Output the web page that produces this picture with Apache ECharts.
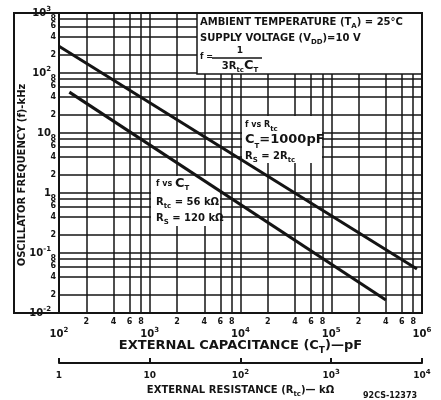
<!DOCTYPE html>
<html><head><meta charset="utf-8">
<script src="https://cdn.jsdelivr.net/npm/echarts@6/dist/echarts.min.js"></script>
<style>html,body{margin:0;padding:0;background:#fff}#c{width:441px;height:400px}</style>
</head><body><div id="c"></div>
<script>
// ---- data ----
const capDecades = [100, 1000, 10000, 100000, 1000000];          // pF
const freqDecades = [0.01, 0.1, 1, 10, 100, 1000];               // kHz
const resDecades = [1, 10, 100, 1000, 10000];                    // kOhm
const minorMultipliers = [2, 4, 6, 8];

// f vs C_T  (R_tc = 56 kOhm, R_S = 120 kOhm)
const ctValues = [130, 400000];
const fVsCt = [48, 0.0165];
// f vs R_tc (C_T = 1000 pF, R_S = 2 R_tc)
const rtcValues = [1, 8800];
const fVsRtc = [280, 0.054];

const FONT = 'DejaVu Sans';
const INK = '#141414';

function expLabel(v) {
  const e = Math.round(Math.log10(v));
  if (e === 0) return '1';
  if (e === 1) return '10';
  return '10{sup|' + e + '}';
}
const supRich = { sup: { fontSize: 7, verticalAlign: 'top', fontFamily: FONT, fontWeight: 'bold', color: INK } };
const subRich = {
  sub: { fontSize: 7, verticalAlign: 'bottom', fontFamily: FONT, fontWeight: 'bold', color: INK },
  big: { fontSize: 13, fontFamily: FONT, fontWeight: 'bold', color: INK },
  small: { fontSize: 8, fontFamily: FONT, fontWeight: 'bold', color: INK }
};

// grid lines through the library's scales (markLine)
const gridData = [];
freqDecades.forEach(d => {
  gridData.push({ yAxis: d, label: { show: false } });
  if (d < 1000) minorMultipliers.forEach(m => gridData.push({ yAxis: d * m, label: { show: true, formatter: String(m), position: 'start', distance: 3 } }));
});
capDecades.forEach(d => {
  gridData.push({ xAxis: d, label: { show: false } });
  if (d < 1000000) minorMultipliers.forEach(m => gridData.push({ xAxis: d * m, label: { show: true, formatter: String(m), position: 'start', distance: 5 } }));
});

const chart = echarts.init(document.getElementById('c'), null, { renderer: 'canvas' });
const txt = (x, y, text, size, extra) => Object.assign({
  type: 'text', z: 11, silent: true, x: x, y: y,
  style: Object.assign({ text: text, fill: INK, fontFamily: FONT, fontWeight: 'bold', fontSize: size, lineHeight: size + 6, align: 'left', verticalAlign: 'middle', rich: subRich }, extra || {})
});

chart.setOption({
  animation: false,
  backgroundColor: '#fff',
  grid: { left: 59, right: 19, top: 13, bottom: 87, containLabel: false, outerBoundsMode: 'none' },
  xAxis: [
    {
      type: 'log', logBase: 10, min: 100, max: 1000000, position: 'bottom',
      axisLine: { show: true, lineStyle: { color: INK, width: 2 } },
      axisTick: { show: false }, splitLine: { show: false },
      axisLabel: { margin: 14, formatter: expLabel, rich: supRich, color: INK, fontFamily: FONT, fontWeight: 'bold', fontSize: 10, lineHeight: 14 },
      name: 'EXTERNAL CAPACITANCE (C{sub|T})—pF', nameLocation: 'middle', nameGap: 24, nameMoveOverlap: false,
      nameTextStyle: { color: INK, fontFamily: FONT, fontWeight: 'bold', fontSize: 13, lineHeight: 18, rich: { sub: { fontSize: 9, verticalAlign: 'bottom', fontFamily: FONT, fontWeight: 'bold', color: INK } } }
    },
    {
      type: 'log', logBase: 10, min: 1, max: 10000, position: 'bottom', offset: 50,
      axisLine: { show: true, lineStyle: { color: INK, width: 2 } },
      axisTick: { show: true, inside: true, length: 5, lineStyle: { color: INK, width: 2 } },
      splitLine: { show: false },
      axisLabel: { margin: 6, formatter: expLabel, rich: supRich, color: INK, fontFamily: FONT, fontWeight: 'bold', fontSize: 9, lineHeight: 13 },
      name: 'EXTERNAL RESISTANCE (R{sub|tc})— kΩ', nameLocation: 'middle', nameGap: 20, nameMoveOverlap: false,
      nameTextStyle: { color: INK, fontFamily: FONT, fontWeight: 'bold', fontSize: 10, lineHeight: 15, rich: subRich }
    }
  ],
  yAxis: [{
    type: 'log', logBase: 10, min: 0.01, max: 1000,
    axisLine: { show: true, lineStyle: { color: INK, width: 2 } },
    axisTick: { show: false }, splitLine: { show: false },
    axisLabel: { margin: 8, formatter: expLabel, rich: supRich, color: INK, fontFamily: FONT, fontWeight: 'bold', fontSize: 10, lineHeight: 14 }
  }],
  graphic: { elements: [
    { type: 'rect', z: 12, silent: true, shape: { x: 14, y: 13, width: 408, height: 300 }, style: { fill: 'none', stroke: INK, lineWidth: 2 } },
    { type: 'rect', z: 10, silent: true, shape: { x: 197, y: 13, width: 225, height: 61 }, style: { fill: '#fff', stroke: INK, lineWidth: 1.5 } },
    { type: 'rect', z: 10, silent: true, shape: { x: 242, y: 116, width: 80, height: 47 }, style: { fill: '#fff' } },
    { type: 'rect', z: 10, silent: true, shape: { x: 151, y: 176, width: 69, height: 50 }, style: { fill: '#fff' } },
    txt(200, 22, 'AMBIENT TEMPERATURE (T{sub|A}) = 25°C', 10),
    txt(200, 38, 'SUPPLY VOLTAGE (V{sub|DD})=10 V', 10),
    txt(200, 57, 'f =', 8),
    txt(240, 51, '1', 9, { align: 'center' }),
    { type: 'line', z: 11, silent: true, shape: { x1: 212, y1: 58, x2: 262, y2: 58 }, style: { stroke: INK, lineWidth: 1.5 } },
    txt(240, 66, '3R{sub|tc}{big|C}{sub|T}', 10, { align: 'center' }),
    txt(245, 125, '{small|f vs R}{sub|tc}', 9),
    txt(245, 140, 'C{sub|T}=1000pF', 13),
    txt(245, 156, 'R{sub|S} = 2R{sub|tc}', 10),
    txt(156, 184, '{small|f vs }{big|C}{sub|T}', 10),
    txt(156, 202, 'R{sub|tc} = 56 kΩ', 10),
    txt(156, 218, 'R{sub|S} = 120 kΩ', 10),
    { type: 'text', z: 11, silent: true, x: 22, y: 175, rotation: Math.PI / 2,
      style: { text: 'OSCILLATOR FREQUENCY (f)-kHz', fill: INK, fontFamily: FONT, fontWeight: 'bold', fontSize: 10, align: 'center', verticalAlign: 'middle' } },
    { type: 'text', z: 11, silent: true, x: 363, y: 396,
      style: { text: '92CS-12373', fill: INK, fontFamily: FONT, fontWeight: 'bold', fontSize: 8, align: 'left', verticalAlign: 'middle' } }
  ] },
  series: [
    {
      name: 'grid', type: 'line', xAxisIndex: 0, yAxisIndex: 0, data: [], silent: true,
      markLine: {
        silent: true, z: 1, symbol: ['none', 'none'], animation: false,
        lineStyle: { color: INK, width: 1.5, type: 'solid' },
        label: { color: INK, fontFamily: FONT, fontWeight: 'bold', fontSize: 8 },
        emphasis: { disabled: true },
        data: gridData
      }
    },
    {
      name: 'f vs R_tc', type: 'line', xAxisIndex: 1, yAxisIndex: 0, z: 20, symbol: 'none', silent: true,
      lineStyle: { color: INK, width: 3 },
      data: rtcValues.map((r, i) => [r, fVsRtc[i]])
    },
    {
      name: 'f vs C_T', type: 'line', xAxisIndex: 0, yAxisIndex: 0, z: 20, symbol: 'none', silent: true,
      lineStyle: { color: INK, width: 3 },
      data: ctValues.map((c, i) => [c, fVsCt[i]])
    }
  ]
});
</script></body></html>
